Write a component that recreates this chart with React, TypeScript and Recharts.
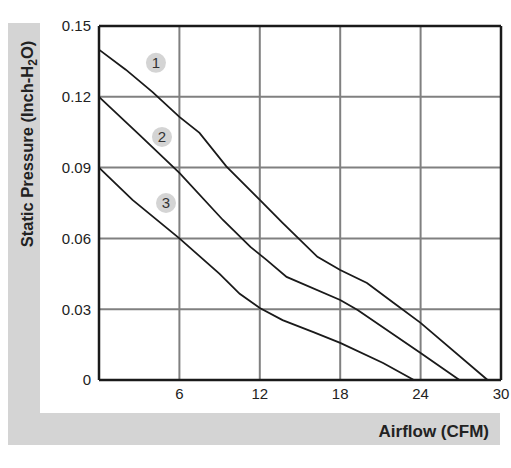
import { CartesianGrid, Line, LineChart, ReferenceDot, ReferenceLine, XAxis, YAxis } from 'recharts';

// fan curves: airflow (CFM) vs static pressure (inch-H2O)
const curve1 = [
    { x: 0, y: 0.14 }, { x: 2, y: 0.1315 }, { x: 4, y: 0.122 }, { x: 6, y: 0.1115 },
    { x: 7.5, y: 0.1047 }, { x: 9.5, y: 0.0905 }, { x: 12, y: 0.0763 }, { x: 13.7, y: 0.0666 },
    { x: 16.3, y: 0.0522 }, { x: 18, y: 0.0466 }, { x: 20, y: 0.0411 }, { x: 22, y: 0.0326 },
    { x: 24, y: 0.0242 }, { x: 29, y: 0 },
];
const curve2 = [
    { x: 0, y: 0.12 }, { x: 3, y: 0.104 }, { x: 6, y: 0.0878 }, { x: 9.25, y: 0.0678 },
    { x: 11.3, y: 0.0564 }, { x: 12.5, y: 0.0509 }, { x: 14, y: 0.0437 }, { x: 18, y: 0.0339 },
    { x: 19.3, y: 0.0297 }, { x: 24, y: 0.0114 }, { x: 26.9, y: 0 },
];
const curve3 = [
    { x: 0, y: 0.09 }, { x: 2.5, y: 0.0763 }, { x: 6, y: 0.06 }, { x: 9, y: 0.045 },
    { x: 10.5, y: 0.0365 }, { x: 12, y: 0.0305 }, { x: 13.7, y: 0.0254 }, { x: 16, y: 0.0203 },
    { x: 18, y: 0.0157 }, { x: 21.2, y: 0.0072 }, { x: 23.5, y: 0 },
];
const badges = [
    { label: '1', x: 4.25, y: 0.1344 },
    { label: '2', x: 4.7, y: 0.103 },
    { label: '3', x: 5.0, y: 0.075 },
];
const xTicks = [6, 12, 18, 24, 30];
const yTicks = [0, 0.03, 0.06, 0.09, 0.12, 0.15];

const font = 'Liberation Sans, Arial, sans-serif';

const App = () => (
    <div style={{ position: 'absolute', left: 0, top: 0, width: 511, height: 468, background: '#fff', fontFamily: font }}>
        <div style={{ position: 'absolute', left: 8, top: 23, width: 32, height: 422, background: '#d4d4d4' }} />
        <div style={{ position: 'absolute', left: 8, top: 413, width: 492, height: 32, background: '#d4d4d4' }} />
        <div style={{ position: 'absolute', left: 0, top: 0 }}>
            <LineChart width={511} height={468} margin={{ top: 26, right: 10, bottom: 58, left: 39 }}>
                <CartesianGrid stroke="#808080" strokeWidth={2} />
                <XAxis type="number" dataKey="x" domain={[0, 30]} ticks={xTicks} height={30}
                    tickLine={false} tickSize={0} tickMargin={8} axisLine={{ stroke: '#1a1a1a', strokeWidth: 2.5 }}
                    tick={{ fill: '#222', fontSize: 15, fontFamily: font }} allowDuplicatedCategory={false} />
                <YAxis type="number" dataKey="y" domain={[0, 0.15]} ticks={yTicks} width={60}
                    tickLine={false} tickSize={0} tickMargin={8} axisLine={{ stroke: '#1a1a1a', strokeWidth: 2.5 }}
                    tick={{ fill: '#222', fontSize: 15, fontFamily: font }}
                    tickFormatter={(v: number) => (v === 0 ? '0' : v.toFixed(2))} />
                <ReferenceLine y={0.15} stroke="#1a1a1a" strokeWidth={2.5} />
                <ReferenceLine x={30} stroke="#1a1a1a" strokeWidth={2.5} />
                <Line data={curve1} dataKey="y" type="linear" stroke="#1a1a1a" strokeWidth={1.8} dot={false} isAnimationActive={false} />
                <Line data={curve2} dataKey="y" type="linear" stroke="#1a1a1a" strokeWidth={1.8} dot={false} isAnimationActive={false} />
                <Line data={curve3} dataKey="y" type="linear" stroke="#1a1a1a" strokeWidth={1.8} dot={false} isAnimationActive={false} />
                {badges.map((b) => (
                    <ReferenceDot key={b.label} x={b.x} y={b.y} r={10} fill="#d4d4d4" stroke="none"
                        label={{ value: b.label, position: 'center', fill: '#333', fontSize: 15, fontFamily: font }} />
                ))}
            </LineChart>
        </div>
        <svg width={511} height={468} style={{ position: 'absolute', left: 0, top: 0, pointerEvents: 'none' }}>
            <text x={33} y={144} transform="rotate(-90 33 144)" textAnchor="middle"
                fontFamily={font} fontSize={16.5} fontWeight="bold" fill="#222">
                Static Pressure (Inch-H<tspan fontSize={12} dy={4}>2</tspan><tspan dy={-4}>O)</tspan>
            </text>
            <text x={489} y={437} textAnchor="end" fontFamily={font} fontSize={17} fontWeight="bold" fill="#222">
                Airflow (CFM)
            </text>
        </svg>
    </div>
);

export default App;
